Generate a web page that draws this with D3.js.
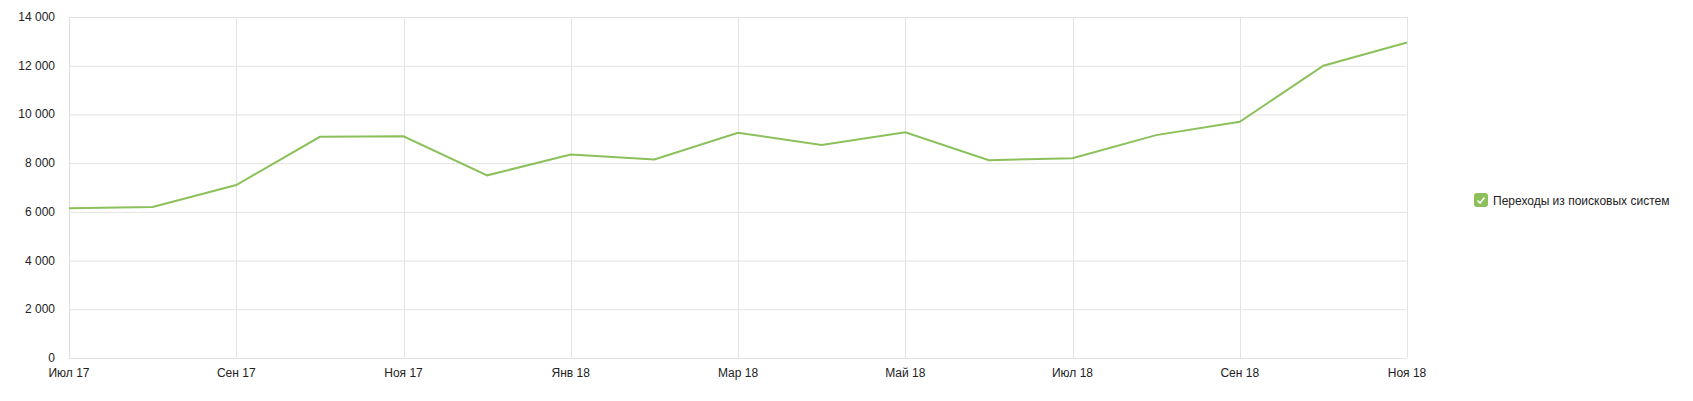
<!DOCTYPE html><html><head><meta charset="utf-8"><script src="https://d3js.org/d3.v7.min.js"></script>
<style>body{margin:0;background:#fff}text{font-family:Arial,"Liberation Sans",sans-serif;font-size:12px;fill:#222}</style></head><body><svg id="c" width="1693" height="401"></svg>
<script>
const months=["Июл 17","Авг 17","Сен 17","Окт 17","Ноя 17","Дек 17","Янв 18","Фев 18","Мар 18","Апр 18","Май 18","Июн 18","Июл 18","Авг 18","Сен 18","Окт 18","Ноя 18"];
const values=[6150,6200,7100,9080,9100,7500,8350,8150,9250,8750,9270,8120,8200,9150,9700,12000,12950];
const yTicks=[0,2000,4000,6000,8000,10000,12000,14000];
const seriesName="Переходы из поисковых систем";
const svg=d3.select("#c"),L=69,R=1407,T=17,B=358;
const x=d3.scaleLinear().domain([0,months.length-1]).range([L,R]);
const y=d3.scaleLinear().domain([0,14000]).range([B,T]);
const fmt=v=>d3.format(",")(v).replace(/,/g,"\u2009");
yTicks.forEach(t=>{svg.append("line").attr("x1",L).attr("x2",R).attr("y1",y(t)+.5).attr("y2",y(t)+.5).attr("stroke","#e3e3e3");
 svg.append("text").attr("x",L-14).attr("y",y(t)+4).attr("text-anchor","end").text(fmt(t).replace("\u2009"," "));});
months.forEach((m,i)=>{if(i%2)return;svg.append("line").attr("x1",Math.round(x(i))+.5).attr("x2",Math.round(x(i))+.5).attr("y1",T).attr("y2",B).attr("stroke","#e3e3e3");
 svg.append("text").attr("x",x(i)).attr("y",377).attr("text-anchor","middle").text(m);});
svg.append("line").attr("x1",L+.5).attr("x2",L+.5).attr("y1",T).attr("y2",B).attr("stroke","#ddd");
svg.append("path").datum(values).attr("fill","none").attr("stroke","#8bc05a").attr("stroke-width",2)
 .attr("d",d3.line().x((d,i)=>x(i)).y(d=>y(d)));
const lg=svg.append("g").attr("transform","translate(1474,193)");
lg.append("rect").attr("width",14).attr("height",14).attr("rx",3).attr("fill","#8bc05a");
lg.append("path").attr("d","M3.5,7.5 L6,10 L10.5,4.5").attr("stroke","#fff").attr("stroke-width",1.6).attr("fill","none");
lg.append("text").attr("x",19).attr("y",11.5).text(seriesName);
</script></body></html>
